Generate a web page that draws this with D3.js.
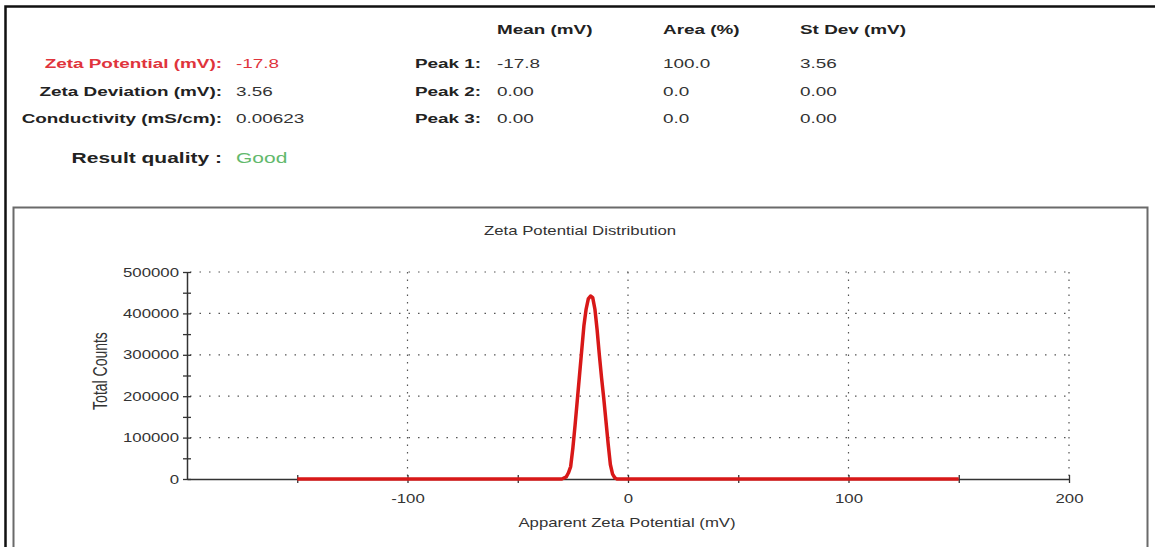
<!DOCTYPE html>
<html>
<head>
<meta charset="utf-8">
<script src="https://cdn.jsdelivr.net/npm/d3@7"></script>
<style>
  body { margin: 0; background: #fff; }
  svg { display: block; font-family: 'Liberation Sans', Arial, sans-serif; }
</style>
</head>
<body>
<svg></svg>
<script>
// header values
const resultLabels = ['Zeta Potential (mV):', 'Zeta Deviation (mV):', 'Conductivity (mS/cm):'];
const resultValues = ['-17.8', '3.56', '0.00623'];
const qualityLabel = 'Result quality :';
const qualityValue = 'Good';
const peakLabels = ['Peak 1:', 'Peak 2:', 'Peak 3:'];
const peakColumns = ['Mean (mV)', 'Area (%)', 'St Dev (mV)'];
const peakMean = ['-17.8', '0.00', '0.00'];
const peakArea = ['100.0', '0.0', '0.0'];
const peakStDev = ['3.56', '0.00', '0.00'];

// distribution
const zetaMv = [-150, -40, -30, -28, -27, -26, -25, -24, -23, -22, -21, -20, -19, -18, -17, -16, -15, -14, -13, -12, -11, -10, -9, -8, -7, -6, -5, 0, 150];
const totalCounts = [0, 0, 0, 5000, 15000, 30000, 75000, 130000, 190000, 250000, 310000, 370000, 410000, 435000, 442000, 438000, 410000, 360000, 300000, 245000, 195000, 140000, 85000, 35000, 12000, 3000, 0, 0, 0];

const yTicks = [0, 100000, 200000, 300000, 400000, 500000];
const yMinorTicks = [50000, 150000, 250000, 350000, 450000];
const xTicks = [-100, 0, 100, 200];
const xMinorTicks = [-150, -50, 50, 150];

const w = 1155;
const h = 547;
const SX = 1.4; // the screenshot text is stretched sideways

const svg = d3.select('svg').attr('width', w).attr('height', h);

const stretchText = (g, x, y, str) =>
  g.append('text').attr('transform', `translate(${x},${y}) scale(${SX},1)`).text(str);

// outer frame (left + top)
svg.append('path')
  .attr('d', `M5.5,${h} V6.5 H${w}`)
  .attr('fill', 'none').attr('stroke', '#111').attr('stroke-width', 2.5);

// ---- header block
const head = svg.append('g').style('font-size', '13.5px').attr('fill', '#222');

resultLabels.forEach((t, i) => {
  const y = [68, 96, 123][i];
  const col = i === 0 ? '#e0343c' : '#222';
  stretchText(head, 222, y, t).attr('text-anchor', 'end').attr('font-weight', 'bold').attr('fill', col);
  stretchText(head, 236, y, resultValues[i]).attr('fill', i === 0 ? col : '#333');
});

stretchText(head, 222, 163, qualityLabel)
  .attr('text-anchor', 'end').attr('font-weight', 'bold').style('font-size', '15px');
stretchText(head, 236, 163, qualityValue)
  .attr('fill', '#62b96c').style('font-size', '15px');

const colX = [497, 663, 800];
peakColumns.forEach((t, i) => {
  stretchText(head, colX[i], 34, t).attr('font-weight', 'bold');
});
peakLabels.forEach((t, i) => {
  const y = [68, 96, 123][i];
  stretchText(head, 415, y, t).attr('font-weight', 'bold');
  stretchText(head, colX[0], y, peakMean[i]).attr('fill', '#333');
  stretchText(head, colX[1], y, peakArea[i]).attr('fill', '#333');
  stretchText(head, colX[2], y, peakStDev[i]).attr('fill', '#333');
});

// ---- chart box
svg.append('path')
  .attr('d', `M13.5,${h} V207.5 H1147.5 V${h}`)
  .attr('fill', 'none').attr('stroke', '#6a6a6a').attr('stroke-width', 2);

const x = d3.scaleLinear().domain([-200, 200]).range([187, 1069]);
const y = d3.scaleLinear().domain([0, 500000]).range([479, 272]);

const chart = svg.append('g');

// dotted grid
chart.selectAll('.hgrid')
  .data(yTicks.filter(d => d > 0))
  .enter().append('line')
  .attr('class', 'hgrid')
  .attr('x1', x(-200) + 3).attr('x2', x(200))
  .attr('y1', d => y(d)).attr('y2', d => y(d))
  .attr('stroke', '#555').attr('stroke-width', 1.2)
  .attr('stroke-dasharray', '1.5,8');

chart.selectAll('.vgrid')
  .data(xTicks)
  .enter().append('line')
  .attr('class', 'vgrid')
  .attr('x1', d => x(d)).attr('x2', d => x(d))
  .attr('y1', y(500000)).attr('y2', y(0))
  .attr('stroke', '#555').attr('stroke-width', 1.2)
  .attr('stroke-dasharray', '1.5,6');

// y axis
const yAxis = chart.append('g')
  .attr('transform', `translate(${x(-200)},0)`)
  .call(d3.axisLeft(y).tickValues(yTicks.concat(yMinorTicks))
    .tickFormat(d => yTicks.includes(d) ? d : '')
    .tickSizeOuter(0));
yAxis.select('.domain').attr('stroke', '#333').attr('stroke-width', 1.5);
yAxis.selectAll('.tick line').attr('x1', 4).attr('x2', -4).attr('stroke', '#333').attr('stroke-width', 1.3);
yAxis.selectAll('.tick text')
  .attr('x', null).attr('dy', null)
  .attr('transform', `translate(-8,4) scale(${SX},1)`)
  .attr('fill', '#333')
  .style('font-size', '12px')
  .style('font-family', "'Liberation Sans', Arial, sans-serif");

// x axis
const xAxis = chart.append('g')
  .attr('transform', `translate(0,${y(0)})`)
  .call(d3.axisBottom(x).tickValues(xMinorTicks.concat(xTicks))
    .tickFormat(d => xTicks.includes(d) ? d : '')
    .tickSizeOuter(0));
xAxis.select('.domain').attr('stroke', '#333').attr('stroke-width', 1.5);
xAxis.selectAll('.tick line').attr('y1', -4).attr('y2', 4).attr('stroke', '#333').attr('stroke-width', 1.3);
xAxis.selectAll('.tick text')
  .attr('y', null).attr('dy', null)
  .attr('transform', `translate(0,24) scale(${SX},1)`)
  .attr('fill', '#333')
  .style('font-size', '12px')
  .style('font-family', "'Liberation Sans', Arial, sans-serif");

// distribution curve
const line = d3.line()
  .x((d, i) => x(zetaMv[i]))
  .y(d => y(d));

chart.append('path')
  .datum(totalCounts)
  .attr('d', line)
  .attr('fill', 'none')
  .attr('stroke', '#d81818')
  .attr('stroke-width', 3.5)
  .attr('stroke-linejoin', 'round');

// titles
const labels = svg.append('g').style('font-size', '12px').attr('fill', '#333').attr('text-anchor', 'middle');
stretchText(labels, 580, 235, 'Zeta Potential Distribution');
stretchText(labels, 627, 527, 'Apparent Zeta Potential (mV)');
labels.append('text')
  .attr('transform', `translate(107,371) scale(${SX},1) rotate(-90)`)
  .style('font-size', '14px')
  .text('Total Counts');
</script>
</body>
</html>
